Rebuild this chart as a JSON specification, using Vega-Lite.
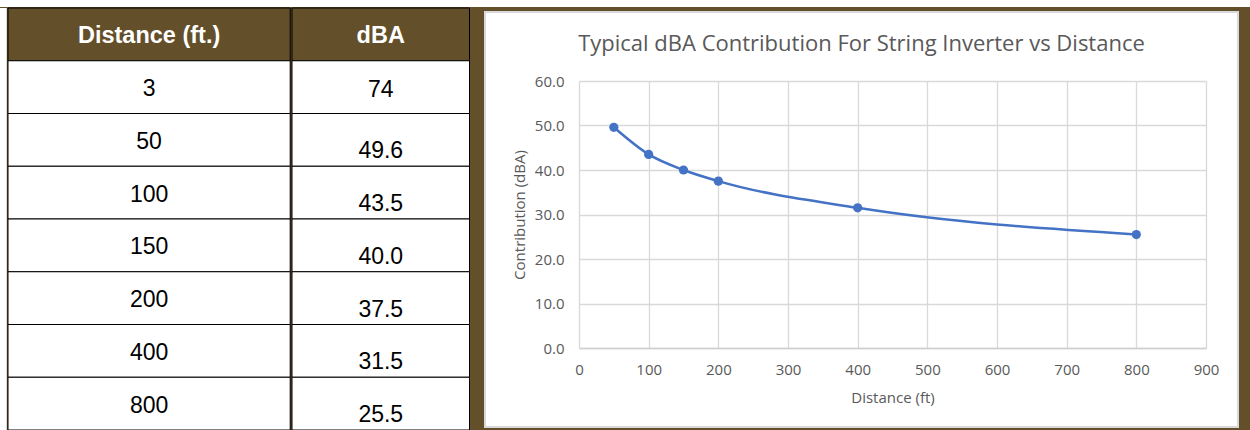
{
  "$schema": "https://vega.github.io/schema/vega-lite/v6.json",
  "background": "#634f29",
  "padding": 0,
  "config": {"view": {"stroke": null}},
  "datasets": {
    "table": [
      {"row": 0, "distance": "Distance (ft.)", "dba": "dBA", "part": "header"},
      {"row": 1, "distance": "3", "dba": "74", "part": "body"},
      {"row": 2, "distance": "50", "dba": "49.6", "part": "body"},
      {"row": 3, "distance": "100", "dba": "43.5", "part": "body"},
      {"row": 4, "distance": "150", "dba": "40.0", "part": "body"},
      {"row": 5, "distance": "200", "dba": "37.5", "part": "body"},
      {"row": 6, "distance": "400", "dba": "31.5", "part": "body"},
      {"row": 7, "distance": "800", "dba": "25.5", "part": "body"}
    ],
    "points": [
      {"distance": 50, "dba": 49.6},
      {"distance": 100, "dba": 43.5},
      {"distance": 150, "dba": 40.0},
      {"distance": 200, "dba": 37.5},
      {"distance": 400, "dba": 31.5},
      {"distance": 800, "dba": 25.5}
    ]
  },
  "spacing": 0,
  "vconcat": [
    {
      "width": 1250, "height": 7,
      "view": {"fill": "white", "stroke": null},
      "data": {"values": []},
      "mark": "point"
    },
    {
      "spacing": 14,
      "hconcat": [
        {
          "spacing": 0,
          "hconcat": [
            {
              "width": 6.8, "height": 422,
              "view": {"fill": "white", "stroke": null},
              "data": {"values": []},
              "mark": "point"
            },
            {
              "width": 282.2, "height": 422,
              "data": {"name": "table"},
              "encoding": {
                "y": {"field": "row", "type": "ordinal", "axis": null, "scale": {"paddingInner": 0, "paddingOuter": 0}}
              },
              "layer": [
                {
                  "mark": {"type": "rect", "stroke": "black", "strokeWidth": 1},
                  "encoding": {"fill": {"condition": {"test": "datum.part === 'header'", "value": "#634f29"}, "value": "white"}}
                },
                {
                  "transform": [{"filter": "datum.part === 'header'"}],
                  "mark": {"type": "text", "font": "Liberation Sans", "fontSize": 23.5, "fontWeight": "bold", "color": "white", "dy": 1.5},
                  "encoding": {"text": {"field": "distance"}}
                },
                {
                  "transform": [{"filter": "datum.part === 'body'"}],
                  "mark": {"type": "text", "font": "Liberation Sans", "fontSize": 23, "color": "black", "dy": 2},
                  "encoding": {"text": {"field": "distance"}}
                }
              ]
            },
            {
              "width": 177.5, "height": 422,
              "data": {"name": "table"},
              "encoding": {
                "y": {"field": "row", "type": "ordinal", "axis": null, "scale": {"paddingInner": 0, "paddingOuter": 0}}
              },
              "layer": [
                {
                  "mark": {"type": "rect", "stroke": "black", "strokeWidth": 1},
                  "encoding": {"fill": {"condition": {"test": "datum.part === 'header'", "value": "#634f29"}, "value": "white"}}
                },
                {
                  "transform": [{"filter": "datum.part === 'header'"}],
                  "mark": {"type": "text", "font": "Liberation Sans", "fontSize": 23.5, "fontWeight": "bold", "color": "white", "dy": 1.5},
                  "encoding": {"text": {"field": "dba"}}
                },
                {
                  "transform": [{"filter": "datum.row === 1"}],
                  "mark": {"type": "text", "font": "Liberation Sans", "fontSize": 23, "color": "black", "dy": 2.5},
                  "encoding": {"text": {"field": "dba"}}
                },
                {
                  "transform": [{"filter": "datum.row > 1"}],
                  "mark": {"type": "text", "font": "Liberation Sans", "fontSize": 23, "color": "black", "dy": 11.5},
                  "encoding": {"text": {"field": "dba"}}
                }
              ]
            }
          ]
        },
        {
          "spacing": 2,
          "vconcat": [
            {
              "width": 753, "height": 1,
              "view": {"stroke": null},
              "data": {"values": []},
              "mark": "point"
            },
            {
              "width": 753, "height": 415,
              "view": {"fill": "white", "stroke": "#d9d9d9", "strokeWidth": 2},
              "data": {"name": "points"},
              "title": {
                "text": "Typical dBA Contribution For String Inverter vs Distance",
                "font": "Open Sans", "fontSize": 22, "fontWeight": "normal", "color": "#595959",
                "anchor": "middle", "baseline": "alphabetic", "offset": -61
              },
              "encoding": {
                "y": {
                  "field": "dba", "type": "quantitative",
                  "scale": {"domain": [0, 60], "range": [336, 69], "nice": false},
                  "axis": {
                    "title": "Contribution (dBA)",
                    "values": [0, 10, 20, 30, 40, 50, 60],
                    "format": ".1f",
                    "offset": -94,
                    "grid": true, "gridColor": "#d9d9d9", "gridWidth": 1.3,
                    "domain": false,
                    "ticks": false, "tickSize": 0,
                    "labelFlush": false, "labelPadding": 15,
                    "labelFont": "Open Sans", "labelFontSize": 15, "labelColor": "#595959",
                    "titleFont": "Open Sans", "titleFontSize": 15, "titleFontWeight": "normal", "titleColor": "#595959",
                    "titlePadding": 7
                  }
                }
              },
              "layer": [
                {
                  "mark": {"type": "line", "color": "#4472C4", "strokeWidth": 2.5, "interpolate": "monotone"},
                  "encoding": {
                    "x": {
                      "field": "distance", "type": "quantitative",
                      "scale": {"domain": [0, 900], "range": [94, 721], "nice": false, "zero": false},
                      "axis": {
                        "orient": "bottom",
                        "title": "Distance (ft)",
                        "values": [0, 100, 200, 300, 400, 500, 600, 700, 800, 900],
                        "offset": -79,
                        "grid": false,
                        "domain": true, "domainColor": "#cfcfcf", "domainWidth": 1.3,
                        "ticks": false, "tickSize": 0,
                        "labelFlush": false, "labelPadding": 14,
                        "labelFont": "Open Sans", "labelFontSize": 15, "labelColor": "#595959",
                        "titleFont": "Open Sans", "titleFontSize": 15, "titleFontWeight": "normal", "titleColor": "#595959",
                        "titlePadding": 13
                      }
                    }
                  }
                },
                {
                  "mark": {"type": "circle", "color": "#4472C4", "size": 85, "opacity": 1},
                  "encoding": {
                    "x": {
                      "field": "distance", "type": "quantitative",
                      "scale": {"domain": [0, 900], "range": [94, 721], "nice": false, "zero": false},
                      "axis": {
                        "orient": "top",
                        "title": null,
                        "values": [0, 100, 200, 300, 400, 500, 600, 700, 800, 900],
                        "grid": true, "gridColor": "#d9d9d9", "gridWidth": 1.3,
                        "domain": false, "ticks": false, "labels": false,
                        "minExtent": 0, "maxExtent": 0
                      }
                    }
                  }
                }
              ],
              "resolve": {"axis": {"x": "independent"}}
            }
          ]
        }
      ]
    }
  ]
}
